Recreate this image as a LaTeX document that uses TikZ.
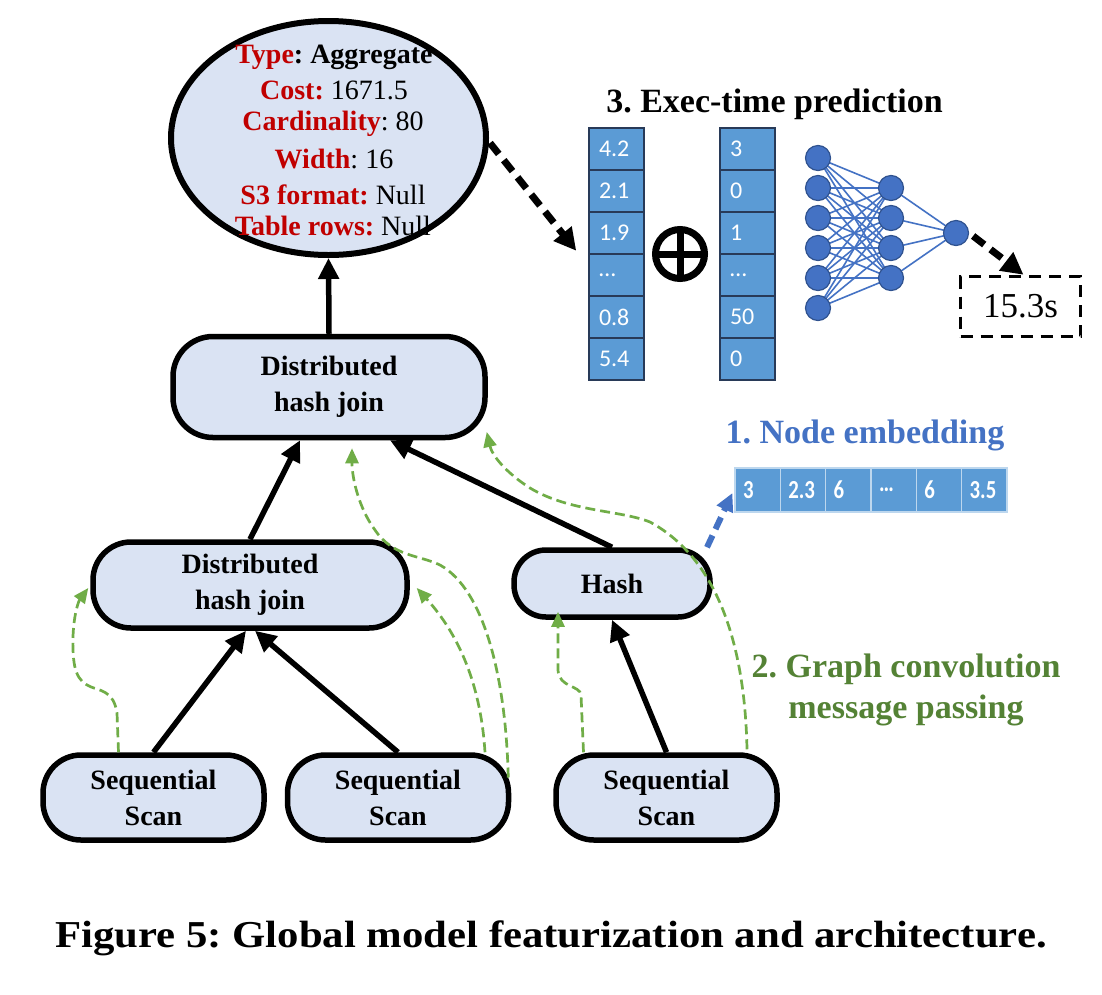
\documentclass[tikz,border=0pt]{standalone}
\usepackage{fontspec}
\usepackage{graphicx}
\setmainfont{Liberation Serif}
\newfontfamily\calib{Carlito}
\usetikzlibrary{arrows.meta,calc,shapes.geometric,backgrounds}
\definecolor{nodefill}{RGB}{218,227,243}
\definecolor{kred}{RGB}{192,0,0}
\definecolor{kblue}{RGB}{68,114,196}
\definecolor{kgreen}{RGB}{84,130,53}
\definecolor{lgreen}{RGB}{112,173,71}
\definecolor{cellblue}{RGB}{91,155,213}
\definecolor{celledge}{RGB}{40,58,88}
\definecolor{nnedge}{RGB}{47,82,143}
\newcommand\nodefont{\fontsize{28}{36}\selectfont\bfseries}
\newcommand\infofont{\fontsize{28}{34}\selectfont}
\newcommand\titlefont{\fontsize{34}{40}\selectfont\bfseries}
\newcommand\cellfont{\calib\fontsize{24}{28}\selectfont\color{white}}
\newcommand\embfont{\calib\bfseries\fontsize{26}{30}\selectfont\color{white}}
\newcommand\capfont{\fontsize{38}{44}\selectfont\bfseries}
\newcommand\lb[1]{\textcolor{kred}{\textbf{#1}}}
\newcommand\embt[1]{\scalebox{0.8}[1]{#1}}
\frenchspacing
\begin{document}
\begin{tikzpicture}[x=1pt,y=-1pt,
  op/.style={draw, line width=5.5pt, fill=nodefill, rounded corners=#1, inner sep=0pt, align=center, font=\nodefont},
  tree/.style={line width=5.5pt, -{Triangle[length=21pt,width=20pt]}},
  msg/.style={color=lgreen, line width=2.7pt, dash pattern=on 10pt off 5pt, -{Triangle[length=15pt,width=13pt]}},
  bdash/.style={line width=7pt, dash pattern=on 14pt off 8pt, -{Triangle[length=22pt,width=22pt]}},
  vcell/.style={draw=celledge, line width=1.5pt, fill=cellblue, minimum height=42pt, text width=35pt, inner xsep=10pt, inner ysep=0pt, align=left, font=\cellfont},
  ecell/.style={draw=white!60!cellblue, line width=1.2pt, fill=cellblue, minimum height=44pt, text width=29.33pt, inner xsep=8pt, inner ysep=0pt, align=left, font=\embfont},
  nn/.style={circle, fill=kblue, draw=nnedge, line width=1.2pt, minimum size=25pt, inner sep=0pt},
  nnlink/.style={color=kblue, line width=1.6pt}]
\begin{pgfonlayer}{background}
\fill[white] (0,0) rectangle (1102,994);
\end{pgfonlayer}
\useasboundingbox (0,0) rectangle (1102,994);

% aggregate ellipse
\node[draw, ellipse, line width=6pt, fill=nodefill, minimum width=315pt, minimum height=234pt, inner sep=0pt] (agg) at (328.5,138) {};
\node[anchor=base, font=\infofont] (e1) at (334,63) {\lb{Type}\textbf{: Aggregate}};
\node[anchor=base, font=\infofont] (e2) at (334,99) {\lb{Cost:} 1671.5};
\node[anchor=base, font=\infofont] (e3) at (333,130) {\lb{Cardinality}: 80};
\node[anchor=base, font=\infofont] (e4) at (334,168) {\lb{Width}: 16};
\node[anchor=base, font=\infofont] (e5) at (333,204) {\lb{S3 format:} Null};
\node[anchor=base, font=\infofont] (e6) at (333,235) {\lb{Table rows:} Null};

% plan nodes
\node[op=40pt, minimum width=312pt, minimum height=101pt] (dhj1) at (329,387) {Distributed\\hash join};
\node[op=38pt, minimum width=314pt, minimum height=86pt] (dhj2) at (250,585) {Distributed\\hash join};
\node[op=32pt, minimum width=196pt, minimum height=67pt] (hash) at (612,583.5) {Hash};
\node[op=38pt, minimum width=221pt, minimum height=85pt] (seq1) at (153.5,797.5) {Sequential\\Scan};
\node[op=38pt, minimum width=221pt, minimum height=85pt] (seq2) at (398,797.5) {Sequential\\Scan};
\node[op=38pt, minimum width=221pt, minimum height=85pt] (seq3) at (666.5,797.5) {Sequential\\Scan};

% tree edges
\draw[tree] (dhj1.north) -- (agg.south);
\draw[tree] (dhj2.north) -- ($(dhj1.south)+(-29,0)$);
\draw[tree] (hash.north) -- ($(dhj1.south)+(61,0)$);
\draw[tree] (seq1.north) -- ($(dhj2.south)+(-4,0)$);
\draw[tree] (seq2.north) -- ($(dhj2.south)+(5,0)$);
\draw[tree] (seq3.north) -- (hash.south);

% message passing
\draw[msg] ($(seq1.north)+(-35,0)$) -- (117,713) .. controls (115,700) and (110,693) .. (97,689) .. controls (80,684) and (74,676) .. (73,650) .. controls (72,620) and (78,602) .. ($(dhj2.west)+(-2,3)$);
\draw[msg] ($(seq2.north)+(87,0)$) .. controls (481,690) and (462,638) .. ($(dhj2.east)+(7,3)$);
\draw[msg] ($(seq2.east)+(-3,-20)$) .. controls (506,680) and (485,590) .. (440,565) .. controls (420,555) and (393,557) .. (375,530) .. controls (360,510) and (352,480) .. ($(dhj1.south)+(23,8)$);
\draw[msg] ($(seq3.north)+(-83,0)$) -- (581,695) .. controls (580,685) and (559,688) .. (558,670) -- ($(hash.south)+(-54,-8)$);
\draw[msg] ($(seq3.north)+(80.5,-3)$) .. controls (745,650) and (720,560) .. (650,522) .. controls (620,510) and (570,512) .. (530,488) .. controls (505,472) and (492,455) .. ($(dhj1.east)+(-1,45)$);

% node embedding
\node[anchor=base, font=\titlefont, text=kblue] (t1) at (865,443) {1. Node embedding};
\foreach [count=\i] \v in {3,2.3,6,…,6,3.5}
  \node[ecell] (emb\i) at ({735+45.33*(\i-0.5)},490) {\embt{\v}};
\draw[color=kblue, line width=6pt, dash pattern=on 13pt off 7pt, -{Triangle[length=18pt,width=17pt]}] ($(hash.north)+(95,0)$) -- ($(emb1.west)+(-2,3)$);

% graph convolution title
\node[anchor=base, font=\titlefont, text=kgreen] (t2a) at (906,677) {2. Graph convolution};
\node[anchor=base, font=\titlefont, text=kgreen] (t2b) at (906,718) {message passing};

% exec-time prediction
\node[anchor=base, font=\titlefont] (t3) at (774.5,112) {3. Exec-time prediction};
\foreach [count=\i] \v in {4.2,2.1,1.9,…,0.8,5.4}
  \node[vcell] (vA\i) at (616.5,107+42*\i) {\v};
\foreach [count=\i] \v in {3,0,1,…,50,0}
  \node[vcell] (vB\i) at (747.5,107+42*\i) {\v};
\node[circle, draw, line width=7pt, minimum size=49pt, inner sep=0pt] (plus) at (680,254) {};
\draw[line width=7pt] ($(plus.center)+(0,-22)$) -- ($(plus.center)+(0,22)$);
\draw[line width=7pt] ($(plus.center)+(-22,0)$) -- ($(plus.center)+(22,0)$);

% neural network
\foreach \i in {1,...,6} \node[nn] (i\i) at (818,128+30*\i) {};
\foreach \j in {1,...,4} \node[nn] (h\j) at (891,158+30*\j) {};
\node[nn] (o1) at (956,233) {};
\begin{pgfonlayer}{background}
\foreach \i in {1,...,6} \foreach \j in {1,...,4}
  \draw[nnlink] (i\i.center) -- (h\j.center);
\foreach \j in {1,...,4} \draw[nnlink] (h\j.center) -- (o1.center);
\end{pgfonlayer}

\node[draw, line width=3.5pt, dash pattern=on 12pt off 8pt, minimum width=120pt, minimum height=60pt, inner sep=0pt, font=\fontsize{35}{40}\selectfont] (res) at (1020.5,306.5) {15.3s};
\draw[bdash] ($(o1.east)+(4,3)$) -- ($(res.north)+(3,0)$);
\draw[bdash] ($(agg.east)+(1,5)$) -- ($(vA3.south west)+(-12,-4)$);

% caption
\node[anchor=base, font=\capfont] (cap) at (551,947) {\scalebox{1.125}[1]{Figure 5: Global model featurization and architecture.}};
\end{tikzpicture}
\end{document}
